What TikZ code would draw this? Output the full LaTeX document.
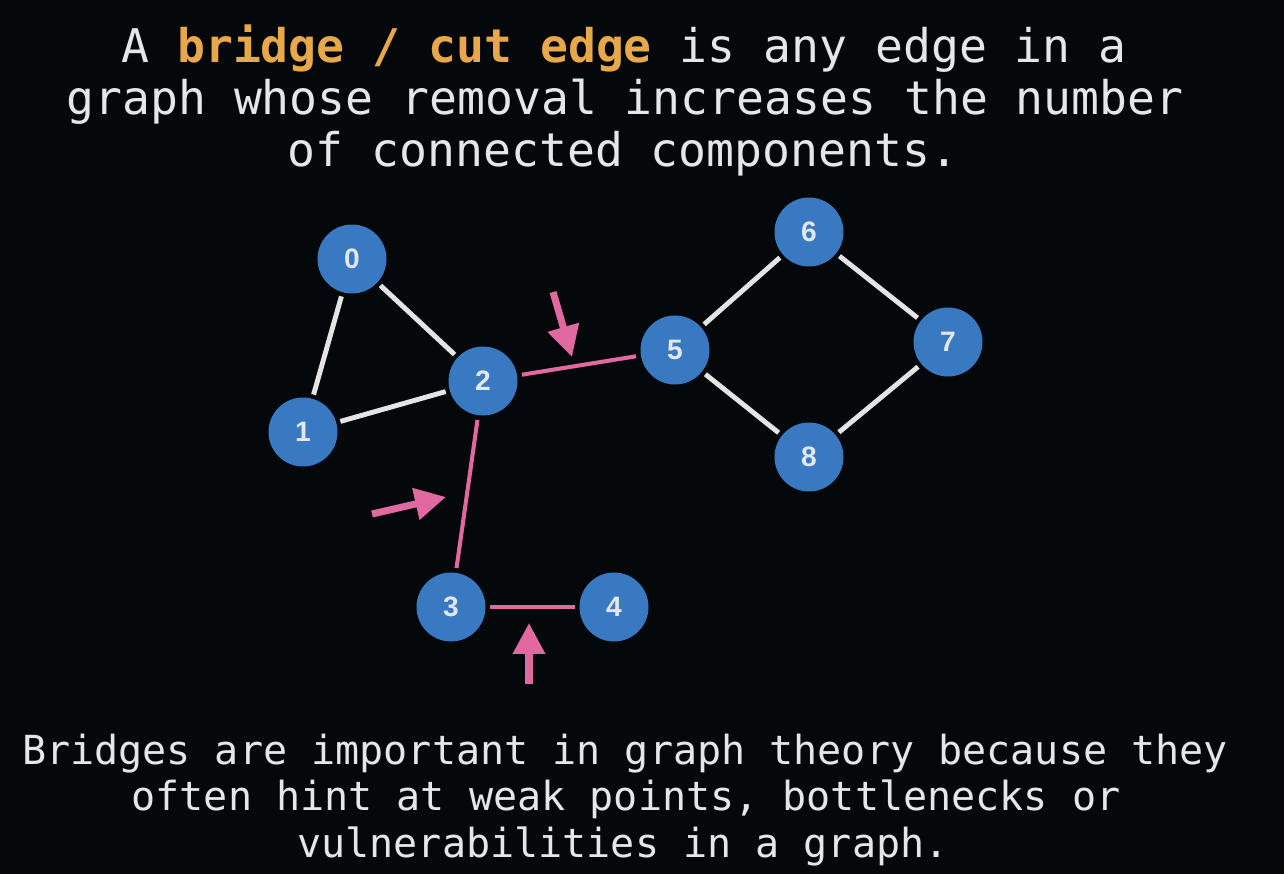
\documentclass[tikz,border=0pt]{standalone}
\usepackage{fontspec}
\setmonofont{DejaVu Sans Mono}
\newfontfamily\numfont{Liberation Sans}
\usetikzlibrary{arrows.meta}

\definecolor{bg}{RGB}{5,8,10}
\definecolor{nodeblue}{RGB}{56,121,194}
\definecolor{bridgepink}{RGB}{226,104,160}
\definecolor{hilite}{RGB}{232,168,74}
\definecolor{txt}{RGB}{228,231,234}
\definecolor{edgewhite}{RGB}{226,228,230}

\tikzset{
  vertex/.style={circle, fill=nodeblue, minimum size=1.38cm, inner sep=0pt,
    text=txt, font=\numfont\bfseries\fontsize{16}{18}\selectfont},
  plainedge/.style={draw=edgewhite, line width=2.8pt, shorten <=0.08cm, shorten >=0.08cm},
  bridgeedge/.style={draw=bridgepink, line width=2.3pt, shorten <=0.09cm, shorten >=0.09cm},
  pointer/.style={draw=bridgepink, line width=4pt,
    -{Triangle[length=0.62cm, width=0.62cm]}},
  headline/.style={anchor=base, text=txt, inner sep=0pt,
    font=\ttfamily\fontsize{26.4}{30}\selectfont},
  footline/.style={anchor=base, text=txt, inner sep=0pt,
    font=\ttfamily\fontsize{22.8}{26}\selectfont},
}

\begin{document}
\begin{tikzpicture}[x=0.02cm, y=-0.02cm]
  % canvas
  \fill[bg] (0,0) rectangle (1284,874);
  \useasboundingbox (0,0) rectangle (1284,874);

  % definition text
  \node[headline] (title1) at (624,63)
    {A \textbf{\color{hilite}bridge / cut edge} is any edge in a};
  \node[headline] (title2) at (625,115)
    {graph whose removal increases the number};
  \node[headline] (title3) at (623,167)
    {of connected components.};

  % vertices
  \node[vertex] (v0) at (352,259) {0};
  \node[vertex] (v1) at (303,432) {1};
  \node[vertex] (v2) at (483,381) {2};
  \node[vertex] (v3) at (451,607) {3};
  \node[vertex] (v4) at (614,607) {4};
  \node[vertex] (v5) at (675,350) {5};
  \node[vertex] (v6) at (809,232) {6};
  \node[vertex] (v7) at (948,342) {7};
  \node[vertex] (v8) at (809,457) {8};

  % ordinary edges
  \draw[plainedge] (v0) -- (v1);
  \draw[plainedge] (v0) -- (v2);
  \draw[plainedge] (v1) -- (v2);
  \draw[plainedge] (v5) -- (v6);
  \draw[plainedge] (v6) -- (v7);
  \draw[plainedge] (v5) -- (v8);
  \draw[plainedge] (v8) -- (v7);

  % bridges
  \draw[bridgeedge] (v2) -- (v5);
  \draw[bridgeedge] (v2) -- (v3);
  \draw[bridgeedge] (v3) -- (v4);

  % pointers to the bridges
  \coordinate (p1s) at (553,292);
  \coordinate (p1e) at (572,357);
  \coordinate (p2s) at (372,514);
  \coordinate (p2e) at (446,497);
  \coordinate (p3s) at (529,684);
  \coordinate (p3e) at (529,623);
  \draw[pointer] (p1s) -- (p1e);
  \draw[pointer] (p2s) -- (p2e);
  \draw[pointer] (p3s) -- (p3e);

  % closing remark
  \node[footline] (note1) at (625,764)
    {Bridges are important in graph theory because they};
  \node[footline] (note2) at (626,810)
    {often hint at weak points, bottlenecks or};
  \node[footline] (note3) at (623,857)
    {vulnerabilities in a graph.};
\end{tikzpicture}
\end{document}
